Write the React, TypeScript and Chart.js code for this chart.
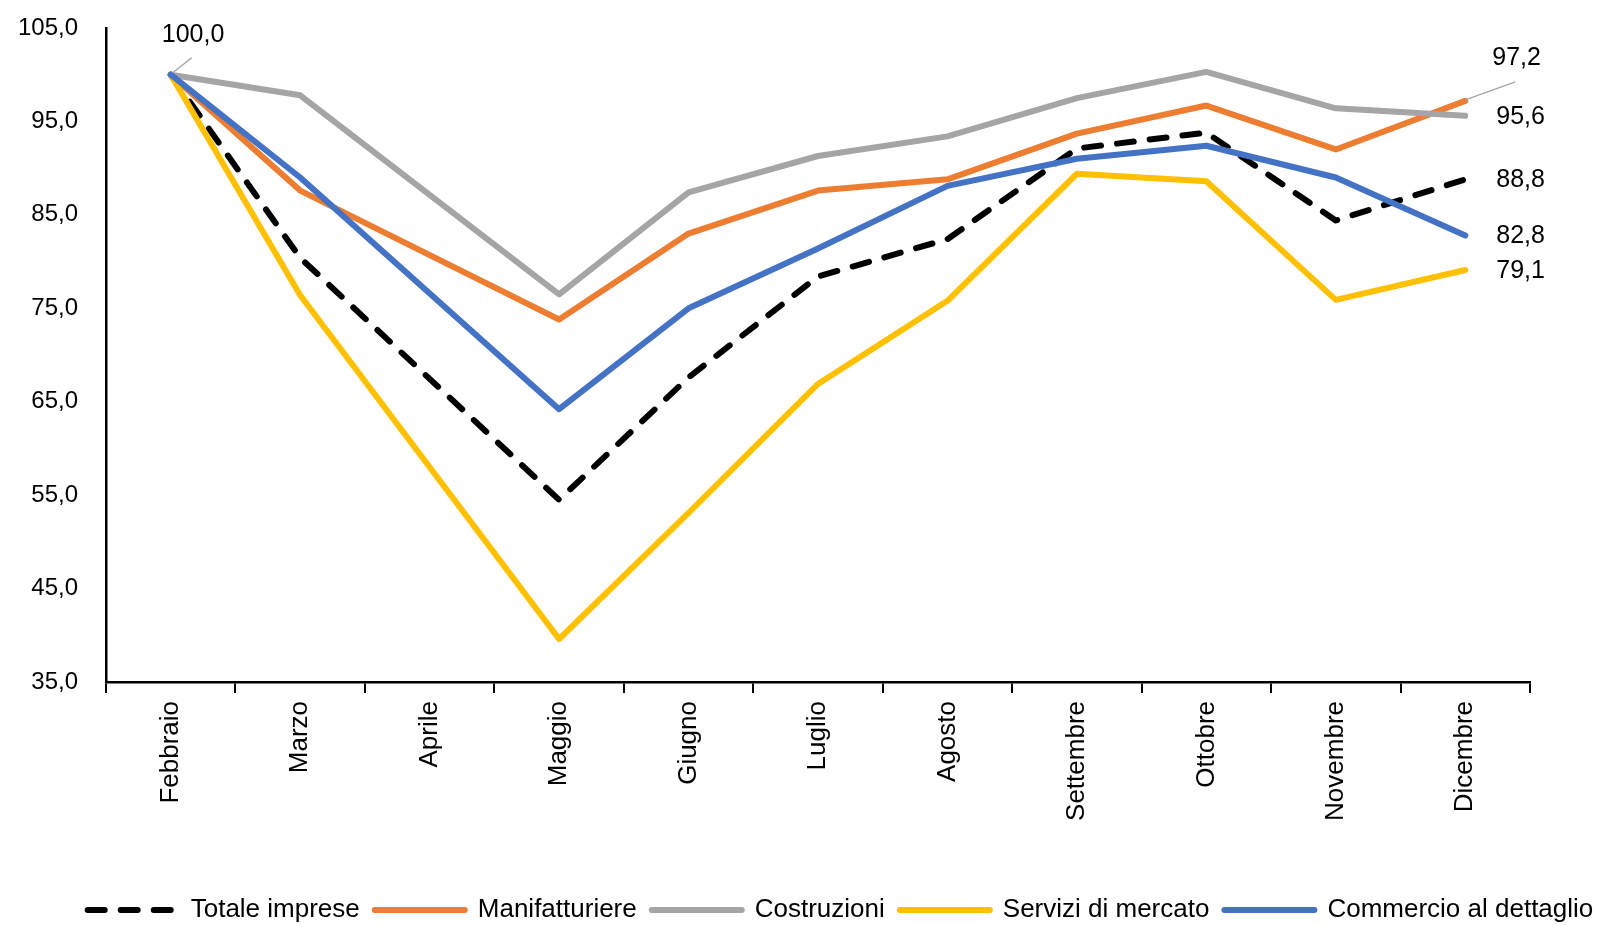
import React, { useEffect, useRef } from 'react';
import { Chart, registerables } from 'chart.js';

Chart.register(...registerables);

const categories = ['Febbraio', 'Marzo', 'Aprile', 'Maggio', 'Giugno', 'Luglio', 'Agosto', 'Settembre', 'Ottobre', 'Novembre', 'Dicembre'];

const totaleImprese = [100, 80.4, null, 54.5, 67.6, 78.4, 82.4, 92.1, 93.8, 84.4, 88.8];
const manifatturiere = [100, 87.6, null, 73.8, 83.0, 87.6, 88.8, 93.7, 96.7, 92.0, 97.2];
const costruzioni = [100, 97.8, null, 76.5, 87.4, 91.3, 93.4, 97.5, 100.3, 96.4, 95.6];
const serviziDiMercato = [100, 76.4, null, 39.6, 53.1, 66.9, 75.8, 89.4, 88.6, 75.9, 79.1];
const commercioAlDettaglio = [100, 89.0, null, 64.2, 75.0, 81.4, 88.1, 91.0, 92.4, 89.0, 82.8];

const seriesNames = ['Totale imprese', 'Manifatturiere', 'Costruzioni', 'Servizi di mercato', 'Commercio al dettaglio'];
const seriesColors = ['#000000', '#ED7D31', '#A5A5A5', '#FFC000', '#4472C4'];

const yMin = 35;
const yMax = 105;
const yStep = 10;

const FONT = '"Liberation Sans", Arial, sans-serif';

const fmt = (v: number) => v.toFixed(1).replace('.', ',');

const valueLabels = {
  id: 'valueLabels',
  afterLayout(chart: any) {
    if (chart.legend) {
      chart.legend.left += 42;
      chart.legend.right += 42;
    }
  },
  afterDatasetsDraw(chart: any) {
    const { ctx } = chart;
    const xs = chart.scales.x;
    const ys = chart.scales.y;
    ctx.save();
    ctx.font = `25px ${FONT}`;
    ctx.fillStyle = '#000';
    ctx.textBaseline = 'middle';
    ctx.textAlign = 'left';
    const leader = (x1: number, y1: number, x2: number, y2: number) => {
      ctx.save();
      ctx.strokeStyle = '#A6A6A6';
      ctx.lineWidth = 1.5;
      ctx.beginPath();
      ctx.moveTo(x1, y1);
      ctx.lineTo(x2, y2);
      ctx.stroke();
      ctx.restore();
    };
    const fx = xs.getPixelForValue(0);
    const fy = ys.getPixelForValue(costruzioni[0]);
    leader(fx + 2, fy - 2, fx + 21, fy - 17);
    ctx.fillText(fmt(costruzioni[0] as number), fx - 9, fy - 40);

    const last = categories.length - 1;
    const lx = xs.getPixelForValue(last);
    const ends = [totaleImprese, manifatturiere, costruzioni, serviziDiMercato, commercioAlDettaglio];
    ends.forEach((arr, i) => {
      const v = arr[last] as number;
      const py = ys.getPixelForValue(v);
      if (i === 1) {
        leader(lx, py - 1, lx + 50, py - 19);
        ctx.fillText(fmt(v), lx + 27, py - 43);
      } else {
        ctx.fillText(fmt(v), lx + 31, py + 1);
      }
    });
    ctx.restore();
  },
};

export default function App() {
  const ref = useRef<HTMLCanvasElement | null>(null);

  useEffect(() => {
    if (!ref.current) return;
    const data = [totaleImprese, manifatturiere, costruzioni, serviziDiMercato, commercioAlDettaglio];
    const dashes = [[17, 16], [], [], [], []];
    const orders = [5, 4, 3, 2, 1];
    const chart = new Chart(ref.current, {
      type: 'line',
      data: {
        labels: categories,
        datasets: data.map((d, i) => ({
          label: seriesNames[i],
          data: d,
          borderColor: seriesColors[i],
          backgroundColor: seriesColors[i],
          borderWidth: 6,
          borderDash: dashes[i],
          borderCapStyle: 'round' as const,
          borderJoinStyle: 'round' as const,
          pointRadius: 0,
          pointHoverRadius: 0,
          spanGaps: true,
          tension: 0,
          order: orders[i],
        })),
      },
      options: {
        animation: false,
        responsive: false,
        maintainAspectRatio: false,
        layout: { padding: { top: 28, left: 0, right: 0, bottom: -7 } },
        plugins: {
          tooltip: { enabled: false },
          legend: {
            position: 'bottom',
            align: 'center',
            labels: {
              usePointStyle: true,
              pointStyle: 'line',
              pointStyleWidth: 90,
              padding: 15,
              color: '#000',
              font: { family: FONT, size: 26 },
              generateLabels: () =>
                seriesNames.map((name, i) => ({
                  text: name,
                  fillStyle: seriesColors[i],
                  strokeStyle: seriesColors[i],
                  lineWidth: 6,
                  lineDash: dashes[i],
                  lineCap: 'round',
                  pointStyle: 'line',
                  hidden: false,
                  datasetIndex: i,
                  fontColor: '#000',
                })) as any,
            },
          },
        },
        scales: {
          x: {
            type: 'category',
            offset: true,
            grid: {
              display: true,
              offset: true,
              drawOnChartArea: false,
              drawTicks: true,
              tickLength: 11,
              color: '#000',
              lineWidth: 2,
            },
            border: { display: true, color: '#000', width: 2.5 },
            ticks: {
              autoSkip: false,
              minRotation: 90,
              maxRotation: 90,
              padding: 8,
              color: '#000',
              font: { family: FONT, size: 26 },
            },
            afterFit: (s: any) => {
              s.height = 200;
            },
          },
          y: {
            min: yMin,
            max: yMax,
            grid: {
              display: true,
              drawOnChartArea: false,
              drawTicks: true,
              tickLength: 20,
              color: 'rgba(0,0,0,0)',
            },
            border: { display: true, color: '#000', width: 2.5 },
            ticks: {
              stepSize: yStep,
              padding: 8,
              color: '#000',
              font: { family: FONT, size: 24 },
              callback: (v: any) => fmt(Number(v)),
            },
            afterFit: (s: any) => {
              s.width = 106;
            },
          },
          yRight: {
            position: 'right',
            display: true,
            grid: { display: false },
            border: { display: false },
            ticks: { display: false },
            afterFit: (s: any) => {
              s.width = 67;
            },
          },
        },
      },
      plugins: [valueLabels],
    });
    return () => chart.destroy();
  }, []);

  return (
    <div style={{ position: 'fixed', left: 0, top: 0, width: 1597, height: 926, background: '#fff' }}>
      <canvas ref={ref} width={1597} height={926} style={{ width: 1597, height: 926, display: 'block' }} />
    </div>
  );
}
